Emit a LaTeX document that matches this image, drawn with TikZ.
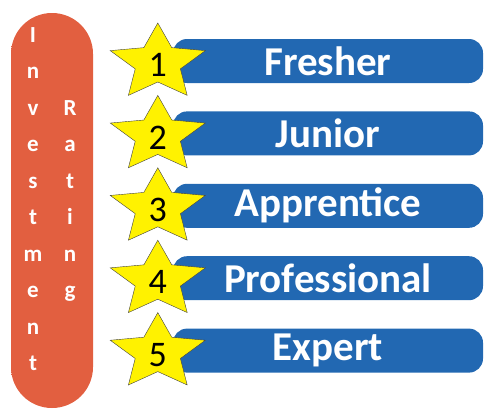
\documentclass[tikz,border=0pt]{standalone}
\usepackage{fontspec}
\setmainfont{Carlito}
\usepackage{tikz}
\usetikzlibrary{positioning}

\definecolor{pillred}{HTML}{F4714F}
\definecolor{pilledge}{HTML}{E25F40}
\definecolor{barblue}{HTML}{2B7ECA}
\definecolor{baredge}{HTML}{2268B2}

\begin{document}
\begin{tikzpicture}[
    x=1pt, y=-1pt,
    node distance=28pt,
    pillbox/.style={rectangle, rounded corners=40.9pt, minimum width=82pt, minimum height=395pt, left color=pilledge, middle color=pillred, right color=pilledge},
    letter/.style={anchor=base, inner sep=0pt, text=white, font=\fontsize{23}{23}\selectfont\bfseries},
    rankbar/.style={rectangle, rounded corners=14pt, minimum width=310pt, minimum height=44pt, inner sep=0pt, top color=baredge, middle color=barblue, bottom color=baredge, text=white, font=\fontsize{41}{41}\selectfont\bfseries},
    rankstar/.style={draw=black!75, fill=yellow, line join=miter},
    digit/.style={inner sep=0pt, yshift=-2pt, font=\fontsize{36}{36}\selectfont}
]
\useasboundingbox (0,0) rectangle (485,410);

% Nodes
\node (pill) [pillbox] at (52,210.5) {};
\foreach \ch [count=\k from 0] in {I,n,v,e,s,t,m,e,n,t}
  \node (inv\k) [letter] at (33,{42+36.5*\k}) {\ch};
\foreach \ch [count=\k from 2] in {R,a,t,i,n,g}
  \node (rat\k) [letter] at (70,{42+36.5*\k}) {\ch};

\node (bar1) [rankbar] at (328,61) {Fresher};
\node (bar2) [rankbar, below=of bar1] {Junior};
\node (bar3) [rankbar, below=of bar2] {Apprentice};
\node (bar4) [rankbar, below=of bar3] {Professional};
\node (bar5) [rankbar, below=of bar4] {Expert};

% Stars
\foreach \i in {1,...,5} {
  \coordinate (star\i) at ([xshift=-15pt, yshift=-2pt]bar\i.west);
  \draw[rankstar, shift={(star\i)}, xscale=1.25] (-90:40)
    \foreach \a in {0,...,4} { -- (-54+72*\a:19) -- (-18+72*\a:40) } -- cycle;
  \node (num\i) [digit] at (star\i) {\i};
}

\end{tikzpicture}
\end{document}
